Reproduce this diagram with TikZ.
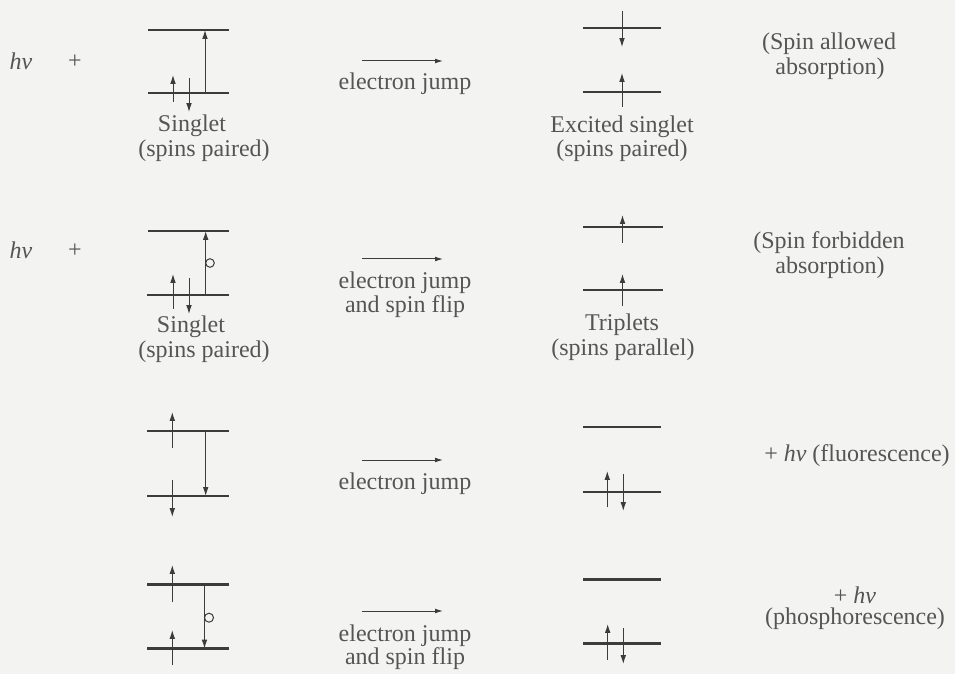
\documentclass[tikz,border=0pt]{standalone}
\usepackage{fontspec}
\setmainfont{Liberation Serif}
\usetikzlibrary{arrows.meta}
\definecolor{bgc}{RGB}{243,243,242}
\definecolor{linec}{RGB}{60,60,60}
\definecolor{textc}{RGB}{85,85,85}
\tikzset{
  level/.style={draw=linec, line width=1.1pt},
  spin/.style={draw=linec, line width=0.5pt, -{Latex[length=4.4pt,width=2.8pt]}},
  trans/.style={draw=linec, line width=0.5pt, -{Latex[length=4.4pt,width=2.8pt]}},
  jump/.style={draw=linec, line width=0.5pt, -{Latex[length=4pt,width=2.4pt]}},
  flip/.style={draw=linec, line width=0.5pt},
  lbl/.style={text=textc, font=\fontsize{12}{12}\selectfont, inner sep=0pt, anchor=center}
}
\begin{document}
\begin{tikzpicture}[x=0.5pt,y=-0.5pt]
\fill[bgc] (0,0) rectangle (955,674);
\useasboundingbox (0,0) rectangle (955,674);

% ---------------- Row 1 ----------------
\node[lbl] (hv1) at (21,61) {\textit{hv}};
\node[lbl] (pl1) at (75,62) {+};
\draw[level] (148,30) -- (229,30);
\draw[level] (148,93) -- (229,93);
\draw[spin] (173,102) -- (173,75);
\draw[spin] (189,78) -- (189,112);
\coordinate (r1t0) at (205,93);
\coordinate (r1t1) at (205,30);
\draw[trans] (r1t0) -- (r1t1);
\node[lbl] (sing1) at (192,126) {Singlet};
\node[lbl] (sp1) at (204,151) {(spins paired)};

\coordinate (j1a) at (362,61);
\coordinate (j1b) at (443,61);
\draw[jump] (j1a) -- (j1b);
\node[lbl] (ej1) at (405,84) {electron jump};

\draw[level] (583,28) -- (661,28);
\draw[level] (583,92) -- (661,92);
\draw[spin] (622,11) -- (622,47);
\draw[spin] (622,107) -- (622,73);
\node[lbl] (ex1) at (622,127) {Excited singlet};
\node[lbl] (sp1r) at (622,151) {(spins paired)};

\node[lbl] (sa1) at (829,44) {(Spin allowed};
\node[lbl] (ab1) at (830,69) {absorption)};

% ---------------- Row 2 ----------------
\node[lbl] (hv2) at (21,250) {\textit{hv}};
\node[lbl] (pl2) at (75,251) {+};
\draw[level] (148,231) -- (229,231);
\draw[level] (147,295) -- (229,295);
\draw[spin] (173,309) -- (173,274);
\draw[spin] (189,278) -- (189,314);
\coordinate (r2t0) at (205.7,295);
\coordinate (r2t1) at (205.7,231);
\draw[trans] (r2t0) -- (r2t1);
\draw[flip] (210,263) circle (4.3);
\node[lbl] (sing2) at (191,327) {Singlet};
\node[lbl] (sp2) at (204,352) {(spins paired)};

\coordinate (j2a) at (362,259);
\coordinate (j2b) at (443,259);
\draw[jump] (j2a) -- (j2b);
\node[lbl] (ej2) at (405,283) {electron jump};
\node[lbl] (sf2) at (405,307) {and spin flip};

\draw[level] (583,227) -- (663,227);
\draw[level] (583,290) -- (663,290);
\draw[spin] (622.5,243) -- (622.5,215);
\draw[spin] (622.5,306) -- (622.5,274);
\node[lbl] (tr2) at (622,325) {Triplets};
\node[lbl] (spp2) at (623,350) {(spins parallel)};

\node[lbl] (sf2r) at (829,243) {(Spin forbidden};
\node[lbl] (ab2) at (830,268) {absorption)};

% ---------------- Row 3 ----------------
\draw[level] (147,431) -- (229,431);
\draw[level] (147,496) -- (229,496);
\draw[spin] (172.3,448) -- (172.3,412);
\draw[spin] (172.3,480) -- (172.3,517);
\coordinate (r3t0) at (205.7,431);
\coordinate (r3t1) at (205.7,496);
\draw[trans] (r3t0) -- (r3t1);

\coordinate (j3a) at (362,460);
\coordinate (j3b) at (443,460);
\draw[jump] (j3a) -- (j3b);
\node[lbl] (ej3) at (405,484) {electron jump};

\draw[level] (583,427) -- (661,427);
\draw[level] (583,492) -- (661,492);
\draw[spin] (607.3,507) -- (607.3,471);
\draw[spin] (623.3,474) -- (623.3,511);

\node[lbl] (fl3) at (857,456) {+ \textit{hv} (fluorescence)};

% ---------------- Row 4 ----------------
\draw[level] (147,584.5) -- (229,584.5);
\draw[level] (147,648.5) -- (229,648.5);
\draw[spin] (172.3,602) -- (172.3,565);
\draw[spin] (172.3,665) -- (172.3,630);
\coordinate (r4t0) at (204.5,584.5);
\coordinate (r4t1) at (204.5,648.5);
\draw[trans] (r4t0) -- (r4t1);
\draw[flip] (209,617.7) circle (4.5);

\coordinate (j4a) at (362,611);
\coordinate (j4b) at (443,611);
\draw[jump] (j4a) -- (j4b);
\node[lbl] (ej4) at (405,636) {electron jump};
\node[lbl] (sf4) at (405,659) {and spin flip};

\draw[level] (583,579.5) -- (661,579.5);
\draw[level] (583,643.5) -- (661,643.5);
\draw[spin] (607.7,660) -- (607.7,624);
\draw[spin] (623.3,628) -- (623.3,664);

\node[lbl] (hv4) at (855,595) {+ \textit{hv}};
\node[lbl] (ph4) at (855,619) {(phosphorescence)};
\end{tikzpicture}
\end{document}
